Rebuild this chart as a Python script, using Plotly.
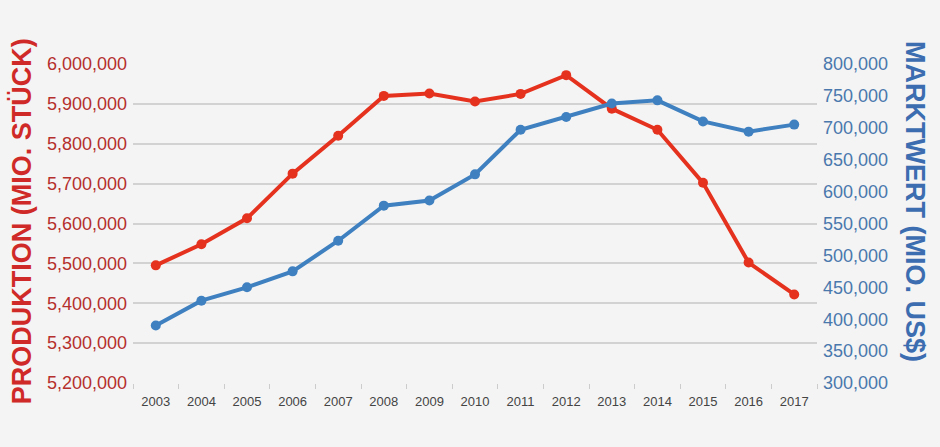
import plotly.graph_objects as go

years = [str(y) for y in range(2003, 2018)]
produktion = [5495000, 5548000, 5613000, 5725000, 5820000, 5920000, 5926000, 5906000,
              5925000, 5972000, 5888000, 5835000, 5702000, 5502000, 5422000]
marktwert = [390000, 429000, 450000, 475000, 523000, 578000, 586000, 627000,
             697000, 717000, 738000, 743000, 710000, 694000, 705000]

RED = '#e5321f'
BLUE = '#3f80c0'
FONT = 'Liberation Sans, Arial, sans-serif'

fig = go.Figure()
fig.add_trace(go.Scatter(x=years, y=marktwert, yaxis='y2', mode='lines+markers',
                         line=dict(color=BLUE, width=4), marker=dict(size=10, color=BLUE),
                         name='Marktwert'))
fig.add_trace(go.Scatter(x=years, y=produktion, mode='lines+markers',
                         line=dict(color=RED, width=4), marker=dict(size=10, color=RED),
                         name='Produktion'))

fig.update_layout(
    width=940, height=447,
    margin=dict(l=133, r=123, t=64, b=64),
    paper_bgcolor='#f4f4f4', plot_bgcolor='#f4f4f4',
    showlegend=False,
    font=dict(family=FONT),
    xaxis=dict(type='category', range=[-0.5, 14.5], tickson='boundaries',
               ticks='outside', ticklen=5, tickcolor='#cccccc', showgrid=False,
               showline=False, zeroline=False, ticklabelstandoff=9,
               tickfont=dict(size=13, color='#444444')),
    yaxis=dict(range=[5200000, 6000000], dtick=100000, tickformat=',d',
               gridcolor='#d2d2d2', gridwidth=1.5, zeroline=False, showline=False,
               ticks='', ticklabelstandoff=5,
               tickfont=dict(size=18, color='#b52f2d')),
    yaxis2=dict(range=[300000, 800000], dtick=50000, tickformat=',d', overlaying='y',
                side='right', showgrid=False, zeroline=False, showline=False,
                ticks='', ticklabelstandoff=5,
                tickfont=dict(size=18, color='#4a78ad')),
    annotations=[
        dict(text='PRODUKTION (MIO. STÜCK)', xref='paper', yref='paper', x=-0.162, y=0.508,
             xanchor='center', yanchor='middle', textangle=-90, showarrow=False,
             font=dict(family=FONT, size=27, color='#d02a28', weight='bold')),
        dict(text='MARKTWERT (MIO. US$)', xref='paper', yref='paper', x=1.143, y=0.568,
             xanchor='center', yanchor='middle', textangle=90, showarrow=False,
             font=dict(family=FONT, size=27, color='#3c6db0', weight='bold')),
    ],
)

fig.write_html("out.html", config={'displayModeBar': False},
               post_script="document.body.style.margin='0';"
                           "document.body.style.background='#f4f4f4';")
